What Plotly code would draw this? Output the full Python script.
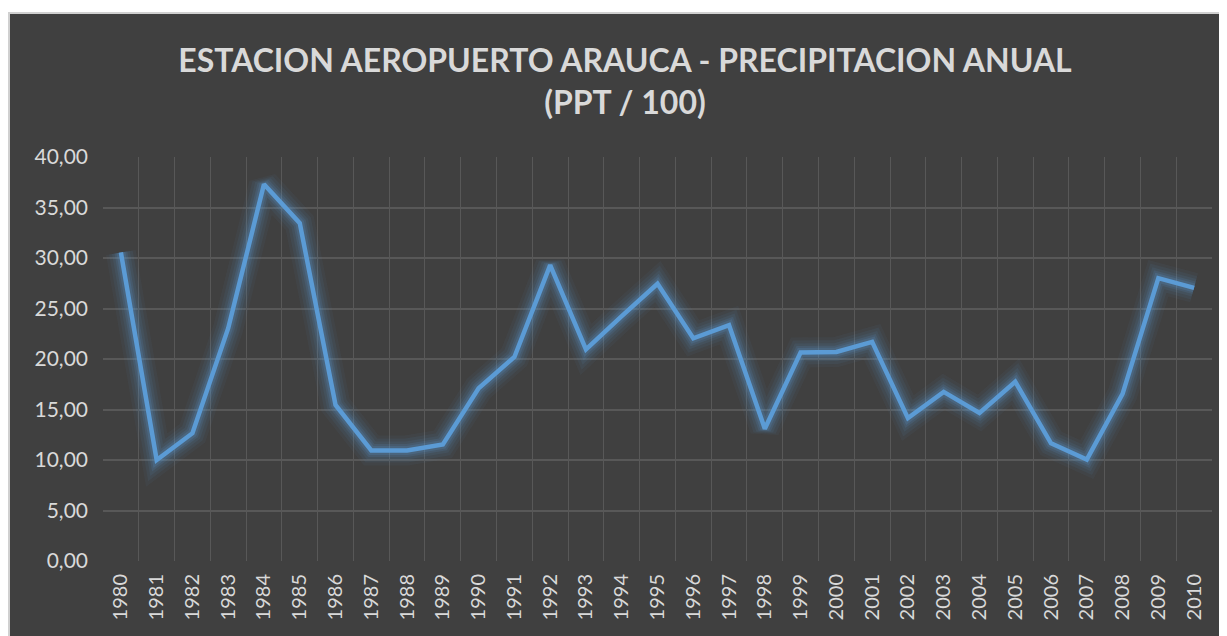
import plotly.graph_objects as go

years = list(range(1980, 2011))
ppt = [30.55, 10.0, 12.65, 23.05, 37.3, 33.45, 15.45, 10.95, 10.95, 11.55,
       17.1, 20.2, 29.3, 20.95, 24.25, 27.45, 22.05, 23.35, 13.1, 20.65,
       20.7, 21.7, 14.15, 16.75, 14.65, 17.75, 11.65, 10.05, 16.55, 28.0,
       27.05]
y_ticks = [0, 5, 10, 15, 20, 25, 30, 35, 40]
y_labels = ['0,00', '5,00', '10,00', '15,00', '20,00', '25,00', '30,00', '35,00', '40,00']

# page has an 8px body margin, so the figure starts at (8, 8)
W, H = 1227, 636
L, R, T, B = 95, 23, 149, 83
pw, ph = W - L - R, H - T - B

blue = '#5B9BD5'
bg = '#404040'
txt = '#d9d9d9'

fig = go.Figure()

# soft glow behind the line
for width, alpha in [(30, 0.05), (24, 0.07), (18, 0.09), (13, 0.13), (9, 0.18)]:
    fig.add_trace(go.Scatter(
        x=years, y=ppt, mode='lines',
        line=dict(color=f'rgba(91,155,213,{alpha})', width=width),
        hoverinfo='skip', showlegend=False
    ))

fig.add_trace(go.Scatter(
    x=years, y=ppt, mode='lines',
    line=dict(color=blue, width=4.5),
    showlegend=False,
    hovertemplate='%{x}<br>%{y:.2f}<extra></extra>'
))


def px_x(p):
    return (p - L) / pw


def px_y(p):
    return 1 - (p - T) / ph


# dark chart panel with a thin light border
fig.add_shape(
    type='rect', xref='paper', yref='paper', layer='below',
    x0=px_x(1), x1=px_x(W + 5), y0=px_y(5), y1=px_y(H + 5),
    fillcolor=bg, line=dict(color='#d0d0d0', width=2)
)

fig.update_layout(
    width=W, height=H,
    margin=dict(l=L, r=R, t=T, b=B),
    paper_bgcolor='white',
    plot_bgcolor='rgba(0,0,0,0)',
    font=dict(family='Lato, Open Sans, sans-serif', color=txt),
    title=dict(
        text='<b>ESTACION AEROPUERTO ARAUCA - PRECIPITACION ANUAL<br>(PPT / 100)</b>',
        x=617 / W, xref='container', xanchor='center',
        y=1 - 64 / H, yanchor='middle',
        font=dict(size=32, color=txt, family='Lato, Open Sans, sans-serif')
    ),
)

fig.update_xaxes(
    range=[1979.5, 2010.5],
    tickmode='array', tickvals=years, ticktext=[str(y) for y in years],
    tickangle=-90, tickfont=dict(size=20, color=txt),
    showgrid=False, zeroline=False, showline=False, ticks='',
    ticklabelstandoff=8,
    minor=dict(tickmode='linear', tick0=1979.5, dtick=1, showgrid=True,
               gridcolor='#585858', gridwidth=1, ticks=''),
)
fig.update_yaxes(
    range=[0, 40],
    tickmode='array', tickvals=y_ticks, ticktext=y_labels,
    tickfont=dict(size=21, color=txt),
    showgrid=True, gridcolor='#585858', gridwidth=1.5,
    zeroline=False, showline=False, ticks='', ticklabelstandoff=14,
)

fig.write_html('out.html')
